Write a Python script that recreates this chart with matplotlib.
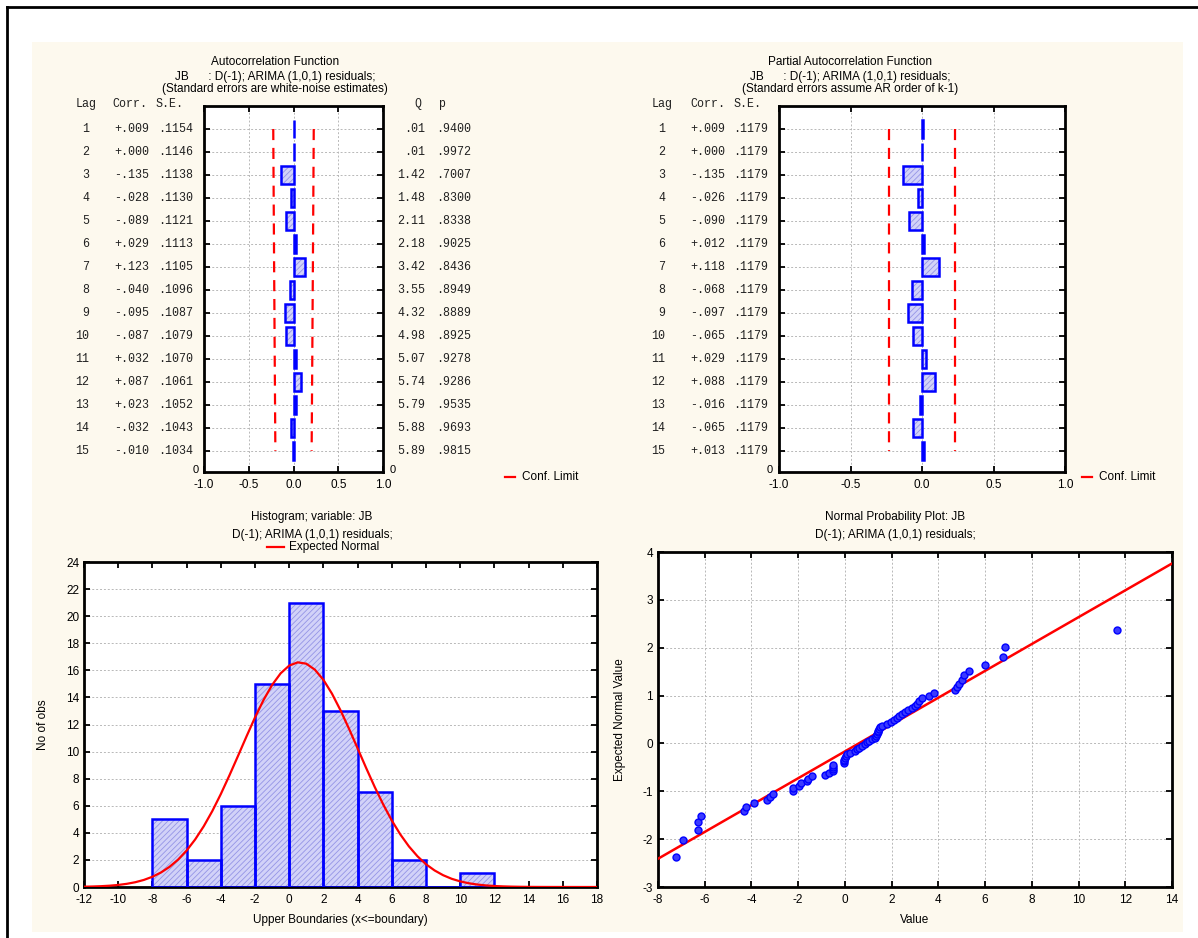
import numpy as np
import matplotlib
matplotlib.use('Agg')
import matplotlib.pyplot as plt
import matplotlib.transforms as mtransforms
from matplotlib.lines import Line2D
from matplotlib.patches import Rectangle

W, H = 1198, 938

# ---- ACF / PACF tables ----
lags = list(range(1, 16))
acf_corr = [0.009, 0.000, -0.135, -0.028, -0.089, 0.029, 0.123, -0.040, -0.095, -0.087,
            0.032, 0.087, 0.023, -0.032, -0.010]
acf_se = [.1154, .1146, .1138, .1130, .1121, .1113, .1105, .1096, .1087, .1079,
          .1070, .1061, .1052, .1043, .1034]
acf_q = [.01, .01, 1.42, 1.48, 2.11, 2.18, 3.42, 3.55, 4.32, 4.98, 5.07, 5.74, 5.79, 5.88, 5.89]
acf_p = [.9400, .9972, .7007, .8300, .8338, .9025, .8436, .8949, .8889, .8925,
         .9278, .9286, .9535, .9693, .9815]

pacf_corr = [0.009, 0.000, -0.135, -0.026, -0.090, 0.012, 0.118, -0.068, -0.097, -0.065,
             0.029, 0.088, -0.016, -0.065, 0.013]
pacf_se = [.1179] * 15

# ---- histogram ----
hist_edges = [-8, -6, -4, -2, 0, 2, 4, 6, 8, 10, 12]
hist_counts = [5, 2, 6, 15, 21, 13, 7, 2, 0, 1]
# expected normal curve, read every half unit from -12 to 18
curve_x = np.arange(-12, 18.5, 0.5)
curve_y = [0.022, 0.037, 0.060, 0.096, 0.152, 0.234, 0.353, 0.522, 0.756, 1.071,
           1.487, 2.02, 2.69, 3.51, 4.48, 5.60, 6.86, 8.23, 9.66, 11.11,
           12.52, 13.81, 14.92, 15.78, 16.35, 16.59, 16.49, 16.05, 15.30, 14.28,
           13.05, 11.68, 10.24, 8.79, 7.39, 6.09, 4.91, 3.88, 3.00, 2.27,
           1.68, 1.225, 0.872, 0.607, 0.414, 0.277, 0.181, 0.116, 0.073, 0.045,
           0.027, 0.016, 0.009, 0.005, 0.003, 0.002, 0.001, 0.001, 0.0, 0.0, 0.0]

# ---- normal probability plot ----
resid = [-7.21, -6.95, -6.28, -6.28, -6.18, -4.30, -4.22, -3.88, -3.35, -3.22, -3.09, -2.24,
         -2.24, -1.98, -1.88, -1.62, -1.57, -1.39, -0.87, -0.69, -0.52, -0.52, -0.52, -0.50,
         -0.02, -0.02, -0.02, -0.01, 0.04, 0.10, 0.20, 0.42, 0.52, 0.62, 0.72, 0.86,
         0.95, 1.05, 1.15, 1.28, 1.33, 1.37, 1.40, 1.43, 1.46, 1.52, 1.58, 1.80,
         1.98, 2.12, 2.22, 2.30, 2.45, 2.58, 2.72, 2.88, 3.02, 3.10, 3.18, 3.28,
         3.60, 3.80, 4.72, 4.80, 4.90, 5.00, 5.08, 5.30, 5.98, 6.75, 6.85, 11.66]
expected = [-2.38, -2.01, -1.80, -1.64, -1.52, -1.42, -1.33, -1.25, -1.18, -1.11, -1.05, -0.99,
            -0.94, -0.88, -0.83, -0.79, -0.74, -0.69, -0.65, -0.61, -0.57, -0.53, -0.49, -0.45,
            -0.41, -0.37, -0.34, -0.30, -0.26, -0.23, -0.19, -0.16, -0.12, -0.09, -0.05, -0.02,
            0.02, 0.05, 0.09, 0.12, 0.16, 0.19, 0.23, 0.26, 0.30, 0.34, 0.37, 0.41,
            0.45, 0.49, 0.53, 0.57, 0.61, 0.65, 0.69, 0.74, 0.79, 0.83, 0.88, 0.94,
            0.99, 1.05, 1.11, 1.18, 1.25, 1.33, 1.42, 1.52, 1.64, 1.80, 2.01, 2.38]
fit_x = [-8, 14]
fit_y = [-2.41, 3.76]

CREAM = '#fdf9ee'
BLUE = '#0000ff'
FILL = '#d2d2f8'
HATCH = '#9494e6'
RED = '#ff0000'
GRID = '#b8b8b8'

plt.rcParams['font.family'] = ['Liberation Sans', 'DejaVu Sans']
plt.rcParams['axes.unicode_minus'] = False
plt.rcParams['hatch.linewidth'] = 0.6
MONO = 'Liberation Mono'

fig = plt.figure(figsize=(W / 100, H / 100), dpi=100)


def fx(px):
    return px / W


def fy(py):
    return 1 - py / H


def box(x0, y0, x1, y1):
    return [fx(x0), fy(y1), (x1 - x0) / W, (y1 - y0) / H]


def style_axes(ax):
    ax.set_facecolor('white')
    for s in ax.spines.values():
        s.set_linewidth(2)
    ax.tick_params(direction='in', length=4, width=1.3, top=True, right=True,
                   labelsize=8.5)
    ax.tick_params(axis='x', pad=5)
    ax.set_axisbelow(True)


# background panel and frame
fig.add_artist(Rectangle((fx(32), fy(932)), (1183 - 32) / W, (932 - 42) / H,
                         transform=fig.transFigure, fc=CREAM, ec='none', zorder=-5))
fig.add_artist(Line2D([fx(7), fx(7)], [0, fy(7)], color='black', lw=2))
fig.add_artist(Line2D([fx(7), 1], [fy(7), fy(7)], color='black', lw=2))


def fmt_corr(v):
    return ('-' if v < 0 else '+') + f"{abs(v):.3f}"[1:]


def fmt_q(v):
    s = f"{v:.2f}"
    return s[1:] if s.startswith('0') else s


def corr_panel(x0, x1, corr, conf):
    ax = fig.add_axes(box(x0, 106, x1, 472))
    style_axes(ax)
    # hatch fill then outline
    ax.barh(lags, corr, height=0.8, color=FILL, edgecolor=HATCH, hatch='//////', lw=0, zorder=2)
    ax.barh(lags, corr, height=0.8, fill=False, edgecolor=BLUE, lw=1.8, zorder=3)
    ax.plot([-c for c in conf], lags, color=RED, lw=1.6, dashes=(5, 3.5), zorder=4)
    ax.plot(conf, lags, color=RED, lw=1.6, dashes=(5, 3.5), zorder=4)
    ax.set_xlim(-1, 1)
    ax.set_ylim(15.92, 0)
    ax.set_xticks([-1.0, -0.5, 0.0, 0.5, 1.0])
    ax.set_xticklabels(['-1.0', '-0.5', '0.0', '0.5', '1.0'])
    ax.set_yticks(lags)
    ax.tick_params(axis='y', labelleft=False)
    ax.grid(True, color=GRID, lw=0.7, dashes=(2, 2))
    return ax


def table_text(ax, px, lag, s, ha='right'):
    tr = mtransforms.blended_transform_factory(fig.transFigure, ax.transData)
    ax.text(fx(px), lag, s, transform=tr, ha=ha, va='center', fontsize=8.4,
            family=MONO, color='#202020', clip_on=False)


def conf_legend(px, py):
    fig.add_artist(Line2D([fx(px), fx(px + 10)], [fy(py), fy(py)], color=RED, lw=1.6))
    fig.text(fx(px + 17), fy(py), 'Conf. Limit', fontsize=8.5, va='center', ha='left')


# ---- ACF ----
acf_conf = [1.96 * s for s in acf_se]
ax1 = corr_panel(204, 383, acf_corr, acf_conf)
for i, lag in enumerate(lags):
    table_text(ax1, 89, lag, str(lag))
    table_text(ax1, 149, lag, fmt_corr(acf_corr[i]))
    table_text(ax1, 193, lag, f"{acf_se[i]:.4f}"[1:])
    table_text(ax1, 425, lag, fmt_q(acf_q[i]))
    table_text(ax1, 471, lag, f"{acf_p[i]:.4f}"[1:])
for px, s in [(76, 'Lag'), (112, 'Corr.'), (155, 'S.E.'), (414, 'Q'), (438, 'p')]:
    table_text(ax1, px, -0.1, s, ha='left')
fig.text(fx(196), fy(470), '0', fontsize=8, ha='center', va='center')
fig.text(fx(393), fy(470), '0', fontsize=8, ha='center', va='center')
fig.text(fx(275), fy(62), 'Autocorrelation Function', fontsize=8.5, ha='center', va='center')
fig.text(fx(275), fy(77), 'JB      : D(-1); ARIMA (1,0,1) residuals;', fontsize=8.5,
         ha='center', va='center')
fig.text(fx(275), fy(89), '(Standard errors are white-noise estimates)', fontsize=8.5,
         ha='center', va='center')
conf_legend(505, 477)

# ---- PACF ----
pacf_conf = [1.96 * s for s in pacf_se]
ax2 = corr_panel(779, 1065, pacf_corr, pacf_conf)
for i, lag in enumerate(lags):
    table_text(ax2, 665, lag, str(lag))
    table_text(ax2, 725, lag, fmt_corr(pacf_corr[i]))
    table_text(ax2, 768, lag, f"{pacf_se[i]:.4f}"[1:])
for px, s in [(652, 'Lag'), (690, 'Corr.'), (733, 'S.E.')]:
    table_text(ax2, px, -0.1, s, ha='left')
fig.text(fx(770), fy(470), '0', fontsize=8, ha='center', va='center')
fig.text(fx(850), fy(62), 'Partial Autocorrelation Function', fontsize=8.5, ha='center', va='center')
fig.text(fx(850), fy(77), 'JB      : D(-1); ARIMA (1,0,1) residuals;', fontsize=8.5,
         ha='center', va='center')
fig.text(fx(850), fy(89), '(Standard errors assume AR order of k-1)', fontsize=8.5,
         ha='center', va='center')
conf_legend(1082, 477)

# ---- histogram ----
ax3 = fig.add_axes(box(84, 562, 597, 887))
style_axes(ax3)
ax3.bar(hist_edges[:-1], hist_counts, width=2, align='edge', color=FILL, edgecolor=HATCH,
        hatch='//////', lw=0, zorder=2)
ax3.bar(hist_edges[:-1], hist_counts, width=2, align='edge', fill=False, edgecolor=BLUE,
        lw=1.8, zorder=3)
ax3.plot(curve_x, curve_y, color=RED, lw=1.6, zorder=4)
ax3.set_xlim(-12, 18)
ax3.set_ylim(0, 24)
ax3.set_xticks(range(-12, 19, 2))
ax3.set_yticks(range(0, 25, 2))
ax3.grid(True, axis='y', color=GRID, lw=0.7, dashes=(2, 2))
ax3.set_xlabel('Upper Boundaries (x<=boundary)', fontsize=8.5, labelpad=6)
ax3.set_ylabel('No of obs', fontsize=8.5, labelpad=12)
fig.text(fx(312), fy(517), 'Histogram; variable: JB', fontsize=8.5, ha='center', va='center')
fig.text(fx(312), fy(535), 'D(-1); ARIMA (1,0,1) residuals;', fontsize=8.5, ha='center', va='center')
fig.add_artist(Line2D([fx(267), fx(284)], [fy(547), fy(547)], color=RED, lw=1.6))
fig.text(fx(289), fy(547), 'Expected Normal', fontsize=8.5, ha='left', va='center')

# ---- normal probability plot ----
ax4 = fig.add_axes(box(658, 552, 1172, 887))
style_axes(ax4)
ax4.plot(fit_x, fit_y, color=RED, lw=1.8, zorder=3)
ax4.plot(resid, expected, 'o', ms=5, mfc='#3a3aff', mec=BLUE, mew=1, zorder=4)
ax4.set_xlim(-8, 14)
ax4.set_ylim(-3, 4)
ax4.set_xticks(range(-8, 15, 2))
ax4.set_yticks(range(-3, 5))
ax4.grid(True, color=GRID, lw=0.7, dashes=(2, 2))
ax4.set_xlabel('Value', fontsize=8.5, labelpad=6)
ax4.set_ylabel('Expected Normal Value', fontsize=8.5, labelpad=12)
fig.text(fx(895), fy(517), 'Normal Probability Plot: JB', fontsize=8.5, ha='center', va='center')
fig.text(fx(895), fy(535), 'D(-1); ARIMA (1,0,1) residuals;', fontsize=8.5, ha='center', va='center')

fig.savefig('out.png', dpi=100, facecolor='white')
